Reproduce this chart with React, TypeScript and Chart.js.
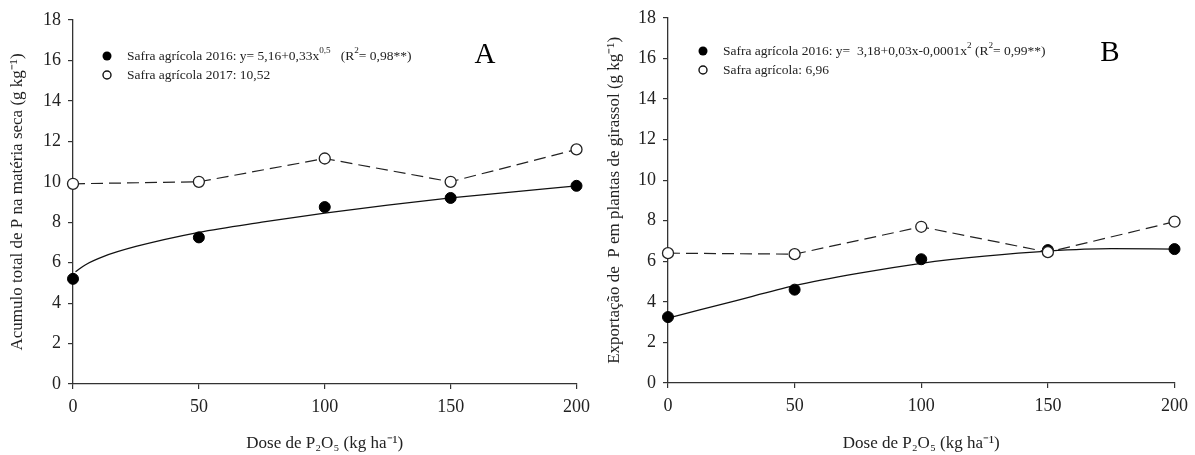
import React, { useEffect, useRef } from "react";
import { Chart, registerables } from "chart.js";

Chart.register(...registerables);

// ---------- data ----------
const doses = [0, 50, 100, 150, 200];
const xTickValues = [0, 50, 100, 150, 200];
const yTickValues = [0, 2, 4, 6, 8, 10, 12, 14, 16, 18];

// Panel A
const accum2016 = [5.2, 7.25, 8.75, 9.2, 9.8];
const accum2017 = [9.9, 10.0, 11.15, 10.0, 11.6];
const accumFitX = [1, 5, 12, 25, 50, 75, 100, 125, 150, 175, 200];
const accumFitY = [5.55, 5.9, 6.3, 6.8, 7.5, 8.0, 8.45, 8.85, 9.2, 9.5, 9.8];

// Panel B
const export2016 = [3.25, 4.6, 6.1, 6.55, 6.6];
const export2017 = [6.4, 6.35, 7.7, 6.45, 7.95];
const exportFitX = [0, 25, 50, 75, 100, 125, 150, 175, 200];
const exportFitY = [3.2, 4.0, 4.8, 5.4, 5.9, 6.25, 6.5, 6.62, 6.6];

type Seg = { t: string; sup?: boolean };

const legendA1: Seg[] = [
  { t: "Safra agrícola 2016: y= 5,16+0,33x" },
  { t: "0,5", sup: true },
  { t: "   (R" },
  { t: "2", sup: true },
  { t: "= 0,98**)" },
];
const legendA2: Seg[] = [{ t: "Safra agrícola 2017: 10,52" }];
const legendB1: Seg[] = [
  { t: "Safra agrícola 2016: y=  3,18+0,03x-0,0001x" },
  { t: "2", sup: true },
  { t: " (R" },
  { t: "2", sup: true },
  { t: "= 0,99**)" },
];
const legendB2: Seg[] = [{ t: "Safra agrícola: 6,96" }];

const xTitle = "Dose de P₂O₅ (kg ha⁻¹)";
const yTitleA = "Acumulo total de P na matéria seca (g kg⁻¹)";
const yTitleB = "Exportação de  P em plantas de girassol (g kg⁻¹)";

const FONT = '"Liberation Serif", "Times New Roman", serif';
const INK = "#222";

function pairs(xs: number[], ys: number[]) {
  return xs.map((x, i) => ({ x, y: ys[i] }));
}

function drawRich(ctx: CanvasRenderingContext2D, segs: Seg[], x: number, y: number, size: number) {
  let cx = x;
  ctx.textBaseline = "middle";
  ctx.textAlign = "left";
  for (const s of segs) {
    const fs = s.sup ? size * 0.68 : size;
    ctx.font = `${fs}px ${FONT}`;
    ctx.fillText(s.t, cx, s.sup ? y - size * 0.38 : y);
    cx += ctx.measureText(s.t).width;
  }
}

type PanelCfg = {
  width: number;
  yAxisWidth: number;
  top: number;
  bottomAxis: number;
  p2016: number[];
  p2017: number[];
  fitX: number[];
  fitY: number[];
  yTitle: string;
  leg1: Seg[];
  leg2: Seg[];
  legX: number;
  legY1: number;
  legY2: number;
  letter: string;
  letterX: number;
  letterY: number;
};

function Panel(props: { cfg: PanelCfg }) {
  const ref = useRef<HTMLCanvasElement>(null);
  const cfg = props.cfg;
  useEffect(() => {
    if (!ref.current) return;
    const H = 455;
    const overlay = {
      id: "overlay",
      afterDraw(chart: any) {
        const ctx = chart.ctx as CanvasRenderingContext2D;
        ctx.save();
        ctx.beginPath();
        ctx.arc(cfg.legX, cfg.legY1, 4.5, 0, Math.PI * 2);
        ctx.fillStyle = "#000";
        ctx.fill();
        ctx.beginPath();
        ctx.arc(cfg.legX, cfg.legY2, 4, 0, Math.PI * 2);
        ctx.fillStyle = "#fff";
        ctx.fill();
        ctx.lineWidth = 1.4;
        ctx.strokeStyle = "#111";
        ctx.stroke();
        ctx.fillStyle = INK;
        drawRich(ctx, cfg.leg1, cfg.legX + 20, cfg.legY1, 13.5);
        drawRich(ctx, cfg.leg2, cfg.legX + 20, cfg.legY2, 13.5);
        ctx.font = `29px ${FONT}`;
        ctx.textAlign = "center";
        ctx.textBaseline = "middle";
        ctx.fillStyle = "#000";
        ctx.fillText(cfg.letter, cfg.letterX, cfg.letterY);
        ctx.restore();
      },
    };
    const chart = new Chart(ref.current, {
      type: "line",
      data: {
        datasets: [
          {
            label: "2017",
            data: pairs(doses, cfg.p2017),
            borderColor: "#222",
            borderWidth: 1.2,
            borderDash: [12, 6],
            pointRadius: 5.5,
            pointBackgroundColor: "#fff",
            pointBorderColor: "#222",
            pointBorderWidth: 1.3,
            tension: 0,
            clip: false,
          } as any,
          {
            label: "2016",
            data: pairs(doses, cfg.p2016),
            showLine: false,
            pointRadius: 5.5,
            pointBackgroundColor: "#000",
            pointBorderColor: "#000",
            pointBorderWidth: 1,
            clip: false,
          } as any,
          {
            label: "fit",
            data: pairs(cfg.fitX, cfg.fitY),
            borderColor: "#111",
            borderWidth: 1.3,
            pointRadius: 0,
            cubicInterpolationMode: "monotone",
            clip: false,
          } as any,
        ],
      },
      options: {
        animation: false,
        responsive: false,
        events: [],
        layout: { padding: { top: cfg.top, right: 20, left: 0, bottom: 0 } },
        plugins: { legend: { display: false }, tooltip: { enabled: false } },
        scales: {
          x: {
            type: "linear",
            min: 0,
            max: 200,
            afterBuildTicks: (s: any) => {
              s.ticks = xTickValues.map((v) => ({ value: v }));
            },
            afterFit: (s: any) => {
              s.height = H - cfg.bottomAxis;
            },
            grid: { drawOnChartArea: false, drawTicks: true, tickLength: 5, color: "#333", lineWidth: 1.2 },
            border: { display: true, color: "#333", width: 1.3 },
            ticks: { color: INK, font: { family: FONT, size: 18 }, padding: 7, maxRotation: 0 },
            title: {
              display: true,
              text: xTitle,
              color: INK,
              font: { family: FONT, size: 17 },
              padding: { top: 0, bottom: 1 },
            },
          },
          y: {
            type: "linear",
            min: 0,
            max: 18,
            afterBuildTicks: (s: any) => {
              s.ticks = yTickValues.map((v) => ({ value: v }));
            },
            afterFit: (s: any) => {
              s.width = cfg.yAxisWidth;
            },
            grid: { drawOnChartArea: false, drawTicks: true, tickLength: 5, color: "#333", lineWidth: 1.2 },
            border: { display: true, color: "#333", width: 1.3 },
            ticks: { color: INK, font: { family: FONT, size: 18 }, padding: 7 },
            title: {
              display: true,
              text: cfg.yTitle,
              color: INK,
              font: { family: FONT, size: 17 },
              padding: { top: 7, bottom: 0 },
            },
          },
        },
      },
      plugins: [overlay],
    } as any);
    return () => chart.destroy();
  }, []);
  return <canvas ref={ref} width={cfg.width} height={455} style={{ display: "block" }} />;
}

const cfgA: PanelCfg = {
  width: 597,
  yAxisWidth: 73,
  top: 20,
  bottomAxis: 384,
  p2016: accum2016,
  p2017: accum2017,
  fitX: accumFitX,
  fitY: accumFitY,
  yTitle: yTitleA,
  leg1: legendA1,
  leg2: legendA2,
  legX: 107,
  legY1: 56,
  legY2: 75,
  letter: "A",
  letterX: 485,
  letterY: 55,
};

const cfgB: PanelCfg = {
  width: 598,
  yAxisWidth: 71,
  top: 17,
  bottomAxis: 383,
  p2016: export2016,
  p2017: export2017,
  fitX: exportFitX,
  fitY: exportFitY,
  yTitle: yTitleB,
  leg1: legendB1,
  leg2: legendB2,
  legX: 106,
  legY1: 51,
  legY2: 70,
  letter: "B",
  letterX: 513,
  letterY: 53,
};

export default function App() {
  return (
    <div
      style={{
        position: "absolute",
        left: 0,
        top: 0,
        width: 1195,
        height: 455,
        background: "#fff",
        display: "flex",
      }}
    >
      <Panel cfg={cfgA} />
      <Panel cfg={cfgB} />
    </div>
  );
}
